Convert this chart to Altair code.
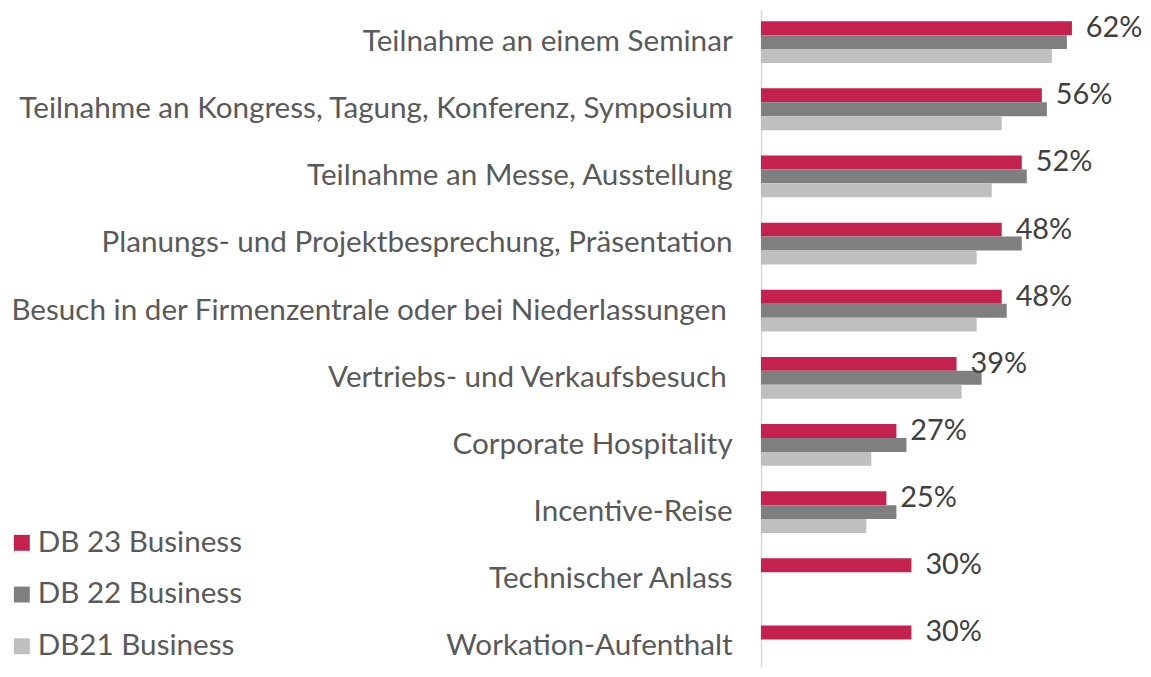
import altair as alt
import pandas as pd

categories = [
    "Teilnahme an einem Seminar",
    "Teilnahme an Kongress, Tagung, Konferenz, Symposium",
    "Teilnahme an Messe, Ausstellung",
    "Planungs- und Projektbesprechung, Präsentation",
    "Besuch in der Firmenzentrale oder bei Niederlassungen",
    "Vertriebs- und Verkaufsbesuch",
    "Corporate Hospitality",
    "Incentive-Reise",
    "Technischer Anlass",
    "Workation-Aufenthalt",
]
series = ["DB 23 Business", "DB 22 Business", "DB21 Business"]
db23 = [62, 56, 52, 48, 48, 39, 27, 25, 30, 30]
db22 = [61, 57, 53, 52, 49, 44, 29, 27, None, None]
db21 = [58, 48, 46, 43, 43, 40, 22, 21, None, None]
colors = ["#C4214F", "#7F7F7F", "#BFBFBF"]

rows = []
for s, vals in zip(series, [db23, db22, db21]):
    for c, v in zip(categories, vals):
        if v is not None:
            rows.append({"cat": c, "series": s, "value": v})
df = pd.DataFrame(rows)

lab = pd.DataFrame({"cat": categories, "value": db23, "series": [series[0]] * len(categories)})
lab["text"] = lab["value"].astype(str) + "%"

FONT = "Lato"
FS = 29.8

y_enc = alt.Y(
    "cat:N",
    sort=categories,
    scale=alt.Scale(domain=categories, paddingInner=0.378, paddingOuter=0.0855, align=1),
    axis=alt.Axis(
        title=None,
        ticks=False,
        labelFontSize=FS,
        labelColor="#595959",
        labelFont=FONT,
        labelPadding=alt.ExprRef(
            "indexof(datum.value, 'Niederlassungen') >= 0 || indexof(datum.value, 'Verkaufsbesuch') >= 0 ? 35 : 29"
        ),
        labelLimit=800,
        domainColor="#D9D9D9",
        domainWidth=1.5,
    ),
)
yoff = alt.YOffset("series:N", scale=alt.Scale(domain=series, paddingInner=0, paddingOuter=0))
x_enc = alt.X(
    "value:Q",
    scale=alt.Scale(domain=[0, 73], nice=False),
    axis=None,
)

bars = alt.Chart(df).mark_bar(size=14).encode(
    y=y_enc,
    yOffset=yoff,
    x=x_enc,
    color=alt.Color(
        "series:N",
        scale=alt.Scale(domain=series, range=colors),
        legend=alt.Legend(
            title=None,
            orient="none",
            legendX=-758,
            legendY=521,
            symbolType="square",
            symbolSize=256,
            symbolStrokeWidth=0,
            labelFontSize=FS,
            labelFont=FONT,
            labelColor="#595959",
            labelOffset=1,
            rowPadding=21,
            labelLimit=400,
        ),
    ),
)

texts = alt.Chart(lab).mark_text(
    align="left", baseline="middle", dx=14, fontSize=29, font=FONT, color="#404040"
).encode(
    y=alt.Y("cat:N", sort=categories),
    yOffset=alt.YOffset("series:N"),
    x=alt.X("value:Q"),
    text="text:N",
)

chart = (
    alt.layer(bars, texts)
    .properties(
        width=368,
        height=661,
        padding={"left": 757, "top": 0, "right": 16, "bottom": 0},
        autosize=alt.AutoSizeParams(type="none"),
        background="white",
    )
    .configure_view(strokeWidth=0, stroke=None)
)

chart.save("out.html", embed_options={"renderer": "svg", "actions": False})
